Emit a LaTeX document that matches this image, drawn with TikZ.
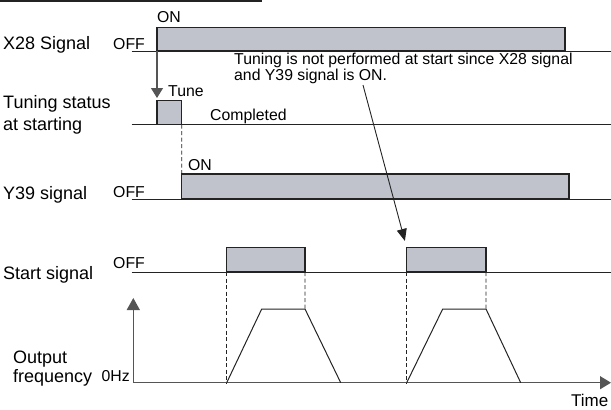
\documentclass[tikz,border=0pt]{standalone}
\usepackage{fontspec}
\setmainfont{Liberation Sans}
\usepackage{xcolor}
\usetikzlibrary{arrows.meta,positioning}

\definecolor{pulsefill}{RGB}{192,195,203}
\definecolor{linegray}{RGB}{35,35,35}
\definecolor{axisgray}{RGB}{85,85,85}

\begin{document}
\begin{tikzpicture}[
    x=1pt, y=-1pt,
    font=\fontsize{18}{22}\selectfont,
    lbl/.style={anchor=base west, inner sep=0pt, align=left},
    sm/.style={font=\fontsize{15.8}{16}\selectfont, inner sep=0pt},
    wave/.style={draw=linegray, line width=1pt},
    pulse/.style={draw=linegray, line width=1.3pt, fill=pulsefill, anchor=south west, inner sep=0pt, outer sep=0pt},
    arr/.style={-{Triangle[length=10pt, width=12pt]}, line width=1.2pt},
    dsh/.style={draw=linegray, line width=0.9pt, dash pattern=on 4pt off 2.5pt},
  ]
    \useasboundingbox (0,0) rectangle (611,410);

    % header rule
    \draw [line width=1.5pt, linegray] (0,1) -- (262,1);

    % X28 signal
    \node (x28) [lbl] at (3,49.5) {X28 Signal};
    \draw [wave] (131.5,51) -- (611,51);
    \node (x28on) [pulse, minimum width=408, minimum height=23.3] at (157,51) {};
    \node (x28off) [sm, anchor=base east] at (145,49) {OFF};
    \node (x28onl) [sm, anchor=base west] at (157,22.5) {ON};

    % tuning status at starting
    \node (tst) [lbl, anchor=west] at (3,115) {Tuning status\\at starting};
    \draw [wave] (131.5,124.5) -- (611,124.5);
    \node (tune) [pulse, minimum width=24.7, minimum height=24] at (157,124.5) {};
    \node (tunel) [sm, anchor=base west] at (168,96) {Tune};
    \node (donel) [sm, anchor=base west] at (210,120.5) {Completed};
    \draw [arr, axisgray, shorten >=2.5pt] (x28on.south west) -- (tune.north west);

    % Y39 signal
    \node (y39) [lbl] at (3,199.5) {Y39 signal};
    \draw [wave] (131.5,199) -- (611,199);
    \node (y39on) [pulse, minimum width=387.3, minimum height=25] at (181.7,199) {};
    \node (y39off) [sm, anchor=base east] at (145,197) {OFF};
    \node (y39onl) [sm, anchor=base west] at (188,170.5) {ON};
    \draw [dsh] (tune.south east) -- (y39on.north west);

    % start signal
    \node (start) [lbl] at (3,279.5) {Start signal};
    \draw [wave] (131.5,272) -- (611,272);
    \node (st1) [pulse, minimum width=78.3, minimum height=24.3] at (226.7,272) {};
    \node (st2) [pulse, minimum width=79.3, minimum height=24.3] at (406.7,272) {};
    \node (stoff) [sm, anchor=base east] at (145,268) {OFF};

    % output frequency
    \node (outf) [lbl, anchor=south west, font=\fontsize{18}{18.5}\selectfont] at (13,386) {Output\\frequency};
    \node (zero) [sm, anchor=base east] at (130,381.5) {0Hz};
    \coordinate (org) at (133.3,382.7);
    \coordinate (fmax) at (133.3,298);
    \coordinate (tmax) at (611,382.7);
    \draw [axisgray, line width=1.3pt, -{Triangle[length=12pt, width=13pt]}] (org) -- (fmax);
    \draw [axisgray, line width=1.3pt, -{Triangle[length=11pt, width=13pt]}] (org) -- (tmax);
    \node (time) [sm, anchor=base east, font=\fontsize{17}{18}\selectfont] at (608.5,406.5) {Time};

    % ramps
    \coordinate (r1a) at (226.7,382.7);
    \coordinate (r1b) at (261.7,309);
    \coordinate (r1c) at (305,309);
    \coordinate (r1d) at (340.7,382.7);
    \coordinate (r2a) at (406.7,382.7);
    \coordinate (r2b) at (442.7,309);
    \coordinate (r2c) at (486,309);
    \coordinate (r2d) at (520.7,382.7);
    \draw [wave] (r1a) -- (r1b) -- (r1c) -- (r1d);
    \draw [wave] (r2a) -- (r2b) -- (r2c) -- (r2d);
    \draw [dsh] (st1.south west) -- (r1a);
    \draw [dsh] (st1.south east) -- (r1c);
    \draw [dsh] (st2.south west) -- (r2a);
    \draw [dsh] (st2.south east) -- (r2c);

    % note
    \node (note) [sm, anchor=north west, align=left] at (234,53) {Tuning is not performed at start since X28 signal\\and Y39 signal is ON.};
    \coordinate (notefoot) at (363,85);
    \draw [line width=0.9pt, linegray, -{Triangle[length=12pt, width=10pt]}, shorten >=7pt] (notefoot) -- (st2.north west);
  \end{tikzpicture}
\end{document}
